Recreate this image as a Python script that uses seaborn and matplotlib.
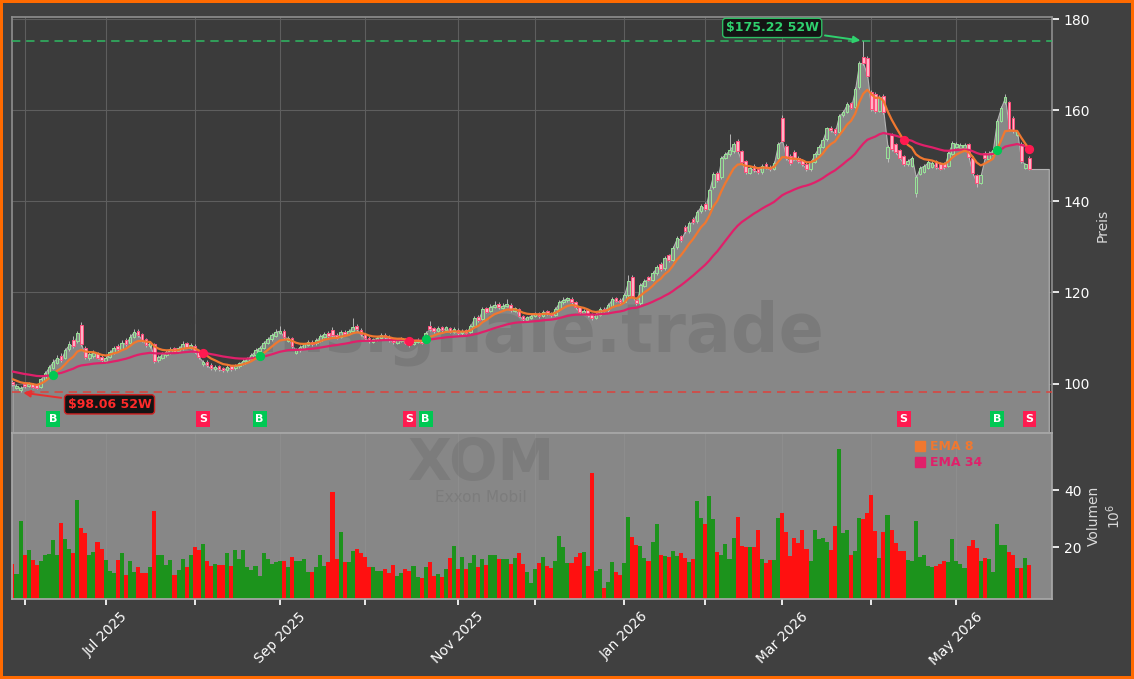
import numpy as np
import pandas as pd
import matplotlib
matplotlib.use("Agg")
import matplotlib.pyplot as plt
import matplotlib.transforms as mtransforms
from matplotlib.lines import Line2D
import seaborn as sns

TICKER = "XOM"
COMPANY = "Exxon Mobil"
WATERMARK = "formsignale.trade"

start_date = "2025-05-28"
end_date = "2026-05-28"
market_holidays = ["2025-06-19", "2025-07-04", "2025-09-01", "2025-11-27",
                   "2025-12-25", "2026-01-01", "2026-01-19", "2026-02-16",
                   "2026-04-03", "2026-05-25"]

opens = [
    100.4, 99.1, 98.6, 99.9, 99.4, 99.9, 99.6, 99.3, 100.8, 102.0, 103.4, 104.6,
    106.1, 105.5, 107.6, 109.6, 109.4, 112.9, 107.8, 105.6, 106.0, 106.6, 105.9, 105.0,
    105.8, 106.8, 108.3, 107.6, 109.5, 108.9, 110.2, 111.5, 110.9, 109.8, 108.2, 108.6,
    105.1, 105.6, 106.2, 106.8, 107.7, 107.1, 107.7, 108.8, 107.9, 108.3, 106.9, 104.2,
    104.8, 104.1, 103.1, 103.8, 103.4, 102.9, 103.8, 103.3, 103.8, 104.3, 104.9, 105.4,
    106.2, 107.2, 107.8, 108.9, 109.7, 110.5, 111.2, 111.5, 109.4, 109.9, 106.8, 107.3,
    107.9, 108.5, 109.2, 108.8, 109.4, 110.3, 111.2, 111.8, 110.7, 110.2, 111.4, 110.9,
    111.5, 112.6, 111.8, 110.9, 110.1, 109.2, 109.6, 110.0, 110.7, 110.3, 109.7, 109.0,
    109.4, 109.8, 109.2, 108.7, 109.1, 109.6, 109.4, 112.6, 112.1, 111.6, 112.3, 111.7,
    112.2, 111.3, 111.8, 111.0, 111.7, 111.3, 112.7, 114.6, 114.2, 116.5, 115.9, 116.8,
    117.4, 116.6, 117.0, 117.3, 116.0, 116.3, 114.8, 113.9, 114.4, 114.8, 115.4, 114.9,
    115.9, 115.5, 115.1, 116.3, 117.8, 118.3, 118.6, 117.8, 116.7, 115.5, 116.1, 115.2,
    114.4, 115.1, 116.4, 116.1, 117.1, 118.7, 118.4, 118.0, 119.4, 123.3, 118.3, 117.6,
    121.5, 123.4, 122.7, 124.2, 126.3, 125.3, 128.2, 127.2, 129.9, 132.3, 134.4, 133.4,
    136.1, 135.6, 137.8, 139.5, 138.4, 143.1, 146.2, 145.3, 149.6, 150.3, 151.0, 153.3,
    151.0, 148.8, 146.2, 147.8, 147.0, 146.4, 148.3, 147.6, 147.1, 149.6, 158.4, 152.2,
    150.0, 150.9, 149.6, 149.0, 148.3, 147.0, 148.7, 150.4, 152.0, 153.6, 156.2, 155.9,
    155.2, 158.9, 159.7, 161.6, 160.8, 165.0, 171.6, 171.5, 164.0, 163.5, 159.9, 163.2,
    149.5, 154.5, 152.6, 151.2, 149.9, 148.1, 147.8, 141.8, 146.0, 146.5, 147.3, 147.6,
    148.8, 148.3, 148.4, 147.8, 150.4, 151.9, 151.7, 151.8, 152.5, 149.6, 145.8, 144.0,
    150.7, 149.4, 150.2, 151.9, 157.7, 161.7, 161.7, 158.4, 154.6, 152.6, 147.3, 149.6,
]
highs = [
    100.8, 99.9, 99.4, 100.3, 100.4, 100.2, 99.9, 101.3, 102.7, 104.1, 105.3, 106.3,
    106.8, 107.9, 109.3, 110.4, 111.6, 113.4, 108.3, 106.9, 107.3, 107.0, 106.2, 106.0,
    107.3, 108.2, 108.7, 109.5, 109.9, 110.8, 112.0, 111.9, 111.2, 110.1, 109.4, 108.9,
    106.2, 106.9, 107.3, 108.0, 108.1, 108.3, 109.3, 109.2, 108.9, 108.6, 107.2, 105.2,
    105.1, 104.4, 104.1, 104.0, 103.7, 104.0, 104.1, 104.3, 104.8, 105.4, 105.9, 106.8,
    107.7, 108.3, 109.4, 110.3, 111.1, 111.9, 112.6, 111.9, 110.4, 110.2, 107.8, 108.4,
    109.0, 109.5, 109.6, 109.9, 110.8, 111.4, 111.6, 112.3, 111.0, 111.7, 111.7, 111.9,
    114.3, 113.1, 112.1, 111.2, 110.4, 110.1, 110.5, 111.0, 111.0, 110.6, 110.0, 109.9,
    110.3, 110.1, 109.5, 109.6, 109.9, 109.9, 111.6, 113.8, 112.4, 112.6, 112.6, 112.7,
    112.5, 112.3, 112.1, 112.0, 112.0, 113.0, 114.8, 115.0, 116.8, 116.9, 117.4, 118.2,
    117.8, 117.6, 118.5, 117.6, 116.9, 116.6, 115.1, 114.9, 115.3, 115.7, 115.7, 116.2,
    116.2, 115.8, 116.8, 118.4, 118.9, 119.1, 118.9, 118.1, 117.0, 116.4, 116.4, 115.5,
    115.6, 116.7, 116.7, 117.6, 119.0, 119.0, 118.7, 119.9, 123.9, 123.9, 118.6, 122.0,
    123.0, 123.7, 124.6, 126.0, 126.6, 128.0, 128.5, 130.2, 132.3, 132.6, 134.8, 135.6,
    136.5, 138.1, 139.5, 139.9, 142.8, 146.4, 146.6, 150.0, 150.8, 154.8, 153.0, 153.7,
    151.3, 149.1, 147.8, 148.1, 147.3, 148.2, 148.6, 147.9, 148.8, 153.0, 158.9, 152.5,
    150.3, 151.3, 149.9, 149.3, 148.6, 149.0, 150.7, 152.3, 153.9, 156.4, 156.5, 156.2,
    159.2, 160.0, 161.8, 161.9, 165.0, 170.9, 175.22, 171.9, 164.4, 163.9, 163.4, 163.6,
    152.4, 154.9, 152.9, 151.5, 150.2, 149.3, 150.0, 145.7, 147.8, 148.2, 149.0, 148.8,
    149.1, 148.6, 148.7, 151.0, 153.2, 153.0, 152.7, 152.8, 152.8, 149.9, 146.1, 146.1,
    151.0, 151.0, 151.6, 158.1, 161.0, 163.6, 162.0, 158.8, 155.6, 153.0, 148.5, 150.0,
]
lows = [
    99.5, 98.7, 98.06, 99.1, 99.2, 99.0, 98.7, 99.1, 100.5, 101.8, 103.1, 104.3,
    104.8, 105.3, 107.2, 107.9, 109.0, 108.2, 105.4, 105.2, 105.7, 105.3, 104.6, 104.4,
    105.5, 106.5, 107.1, 107.3, 108.3, 108.6, 109.9, 110.3, 109.2, 108.1, 107.9, 104.5,
    104.7, 105.3, 105.9, 106.5, 106.6, 106.8, 107.4, 107.7, 107.6, 106.6, 105.4, 103.9,
    103.6, 102.9, 102.8, 102.7, 102.5, 102.6, 102.8, 103.0, 103.5, 104.0, 104.6, 105.1,
    105.9, 106.9, 107.5, 108.6, 109.4, 110.2, 110.9, 109.8, 109.1, 107.9, 106.4, 107.0,
    107.6, 108.2, 108.3, 108.5, 109.1, 110.0, 110.1, 110.2, 109.7, 109.9, 110.4, 110.6,
    111.2, 111.5, 110.4, 109.6, 108.9, 108.9, 109.3, 109.7, 109.8, 109.2, 108.7, 108.7,
    109.1, 108.6, 108.1, 108.4, 108.8, 108.6, 109.1, 111.6, 111.1, 111.3, 111.3, 111.4,
    111.0, 111.0, 110.6, 110.7, 110.8, 111.0, 112.4, 113.6, 113.9, 115.4, 115.6, 116.5,
    116.3, 116.3, 116.7, 115.8, 115.7, 114.5, 113.7, 113.6, 114.1, 114.5, 114.4, 114.6,
    115.0, 114.6, 114.8, 116.0, 117.5, 118.0, 117.5, 116.4, 115.2, 115.2, 114.7, 113.9,
    114.1, 114.8, 115.6, 115.8, 116.8, 117.8, 117.5, 117.7, 119.1, 118.9, 117.2, 117.3,
    121.2, 122.4, 122.4, 123.9, 124.8, 125.0, 126.7, 126.9, 129.6, 131.1, 133.1, 133.1,
    135.1, 135.3, 137.5, 137.9, 138.1, 142.8, 144.2, 145.0, 149.3, 150.0, 150.7, 150.7,
    148.2, 146.0, 145.9, 146.4, 146.1, 146.1, 147.0, 146.6, 146.8, 149.3, 153.0, 149.1,
    148.0, 149.0, 148.4, 147.8, 146.6, 146.7, 148.4, 150.1, 151.7, 153.3, 155.2, 154.6,
    154.9, 158.6, 159.4, 160.2, 160.5, 164.7, 169.9, 167.2, 159.8, 159.4, 159.6, 159.2,
    148.6, 151.1, 150.4, 149.2, 147.8, 147.8, 147.5, 141.0, 145.7, 146.2, 147.0, 147.3,
    147.1, 146.8, 147.2, 147.5, 150.1, 151.6, 151.4, 151.5, 149.4, 145.8, 143.1, 143.7,
    149.2, 149.1, 149.9, 151.6, 157.4, 161.4, 155.5, 155.1, 154.3, 148.5, 147.0, 146.8,
]
closes = [
    99.8, 99.4, 99.0, 99.5, 99.9, 99.3, 99.1, 100.9, 102.2, 103.6, 104.8, 105.6,
    105.2, 107.4, 108.6, 108.2, 111.0, 108.6, 105.9, 106.4, 106.8, 105.7, 105.2, 105.6,
    106.9, 107.8, 107.5, 109.0, 108.7, 110.3, 111.4, 110.7, 109.6, 108.5, 108.9, 105.0,
    105.8, 106.4, 106.9, 107.5, 107.0, 107.8, 108.6, 108.1, 108.4, 107.0, 105.8, 104.8,
    104.0, 103.3, 103.7, 103.1, 102.9, 103.6, 103.2, 103.9, 104.4, 105.0, 105.5, 106.3,
    107.3, 107.9, 109.0, 109.8, 110.6, 111.4, 111.6, 110.2, 110.0, 108.3, 107.4, 108.0,
    108.6, 109.1, 108.7, 109.5, 110.4, 110.9, 110.5, 110.6, 110.1, 111.3, 110.8, 111.5,
    112.4, 111.9, 110.8, 110.0, 109.3, 109.7, 110.1, 110.6, 110.2, 109.6, 109.1, 109.5,
    109.9, 109.0, 108.6, 109.2, 109.5, 109.0, 111.2, 112.0, 111.5, 112.2, 111.7, 112.3,
    111.4, 111.9, 111.0, 111.6, 111.2, 112.6, 114.4, 114.0, 116.3, 115.8, 116.9, 117.3,
    116.7, 117.1, 117.4, 116.2, 116.5, 114.9, 114.1, 114.5, 114.9, 115.3, 114.8, 115.8,
    115.4, 115.0, 116.4, 117.9, 118.4, 118.7, 117.9, 116.8, 115.6, 116.0, 115.1, 114.3,
    115.2, 116.3, 116.0, 117.2, 118.6, 118.2, 117.9, 119.5, 122.5, 119.3, 117.6, 121.6,
    122.6, 122.8, 124.2, 125.6, 125.2, 127.6, 127.1, 129.8, 131.9, 131.5, 133.5, 135.2,
    135.5, 137.7, 139.0, 138.3, 142.4, 146.0, 144.6, 149.6, 150.4, 151.2, 152.6, 151.1,
    148.6, 146.4, 147.4, 146.8, 146.5, 147.8, 147.4, 147.0, 148.4, 152.6, 153.3, 149.6,
    148.4, 149.4, 148.8, 148.2, 147.0, 148.6, 150.3, 151.9, 153.5, 156.0, 155.6, 155.0,
    158.8, 159.6, 161.4, 160.6, 164.6, 170.4, 170.3, 167.6, 160.2, 159.8, 163.0, 159.6,
    152.0, 151.5, 150.8, 149.6, 148.2, 148.9, 149.6, 145.3, 147.4, 147.8, 148.6, 148.4,
    147.5, 147.2, 147.6, 150.6, 152.8, 152.6, 152.3, 152.4, 149.8, 146.2, 144.1, 145.7,
    149.6, 150.6, 151.2, 157.7, 160.6, 162.8, 155.9, 155.5, 155.3, 148.9, 148.1, 147.1,
]
# Volumen in Millionen Stueck
volumes = [
    14.1, 10.6, 29.1, 17.3, 19.1, 15.6, 13.8, 15.3, 17.1, 17.7, 22.6, 17.3,
    28.6, 23.0, 19.4, 18.0, 36.7, 26.8, 25.1, 17.1, 18.5, 22.0, 19.4, 15.6,
    11.5, 11.0, 15.6, 18.0, 10.4, 15.0, 11.4, 13.2, 10.8, 11.1, 13.2, 32.6,
    17.1, 17.1, 13.9, 15.6, 10.4, 12.1, 15.9, 12.9, 17.3, 20.0, 19.2, 21.2,
    15.3, 13.5, 14.1, 13.8, 13.9, 18.0, 13.5, 19.1, 15.9, 19.2, 12.9, 12.0,
    13.5, 9.8, 18.0, 15.9, 14.1, 14.7, 15.0, 15.0, 12.9, 16.7, 15.3, 15.0,
    15.7, 11.2, 11.2, 12.9, 17.1, 13.3, 14.7, 39.4, 15.7, 25.5, 14.7, 14.9,
    18.6, 19.3, 18.1, 16.7, 12.9, 12.9, 11.8, 11.8, 12.2, 10.8, 13.9, 9.9,
    11.1, 12.2, 11.8, 13.5, 9.4, 9.1, 12.9, 14.9, 9.8, 10.6, 9.4, 12.5,
    16.1, 20.4, 12.2, 16.7, 12.4, 14.4, 17.1, 12.9, 15.9, 13.9, 17.4, 17.1,
    15.9, 15.7, 15.9, 14.1, 16.3, 18.1, 14.1, 11.4, 7.3, 12.4, 14.5, 16.7,
    13.5, 12.7, 15.0, 24.1, 20.0, 14.5, 14.5, 16.5, 17.9, 18.5, 13.5, 46.1,
    11.8, 12.4, 5.7, 7.9, 14.7, 11.2, 10.4, 14.4, 30.6, 23.5, 20.8, 20.4,
    16.1, 15.3, 21.8, 28.0, 17.4, 16.8, 16.5, 18.8, 16.8, 17.9, 16.1, 14.7,
    15.7, 36.1, 30.2, 28.0, 37.9, 29.8, 18.5, 17.3, 21.2, 15.8, 23.2, 30.8,
    20.4, 20.0, 20.0, 20.2, 26.2, 16.0, 14.4, 15.4, 15.6, 30.4, 31.9, 25.5,
    16.9, 23.1, 21.4, 25.9, 19.5, 15.2, 26.1, 22.9, 23.1, 21.8, 19.1, 27.4,
    54.7, 25.1, 26.1, 17.2, 18.8, 30.4, 30.1, 32.2, 38.3, 25.6, 16.3, 25.5,
    31.4, 26.1, 21.4, 18.8, 18.6, 15.6, 15.3, 29.1, 16.5, 17.4, 13.5, 12.9,
    13.5, 14.1, 15.3, 14.7, 23.0, 15.3, 14.1, 12.7, 20.6, 22.6, 19.7, 15.0,
    16.3, 15.7, 11.2, 28.0, 20.8, 20.8, 18.5, 17.1, 12.7, 12.7, 16.3, 13.9,
]

# EMA-Stand am Tag vor dem ersten Balken
ema8_prev = 101.3
ema34_prev = 102.8

# Farben
BG = "#404040"
PANEL = "#3b3b3b"
AREA = "#878787"
ORANGE = "#f07830"
PINK = "#e0206a"
BUY = "#00c853"
SELL = "#ff1a50"
VOL_UP = "#1c931c"
VOL_DOWN = "#ff1010"

# ------------------------------------------------------
# Daten vorbereiten
# ------------------------------------------------------
dates = pd.bdate_range(start_date, end_date)
dates = dates[~dates.isin(pd.to_datetime(market_holidays))]

df = pd.DataFrame({
    "open": opens, "high": highs, "low": lows,
    "close": closes, "volume": volumes,
}, index=dates)
df["x"] = np.arange(len(df))
df["up"] = df["close"] >= df["open"]

df["ema8"] = pd.Series([ema8_prev] + closes).ewm(span=8, adjust=False).mean().iloc[1:].values
df["ema34"] = pd.Series([ema34_prev] + closes).ewm(span=34, adjust=False).mean().iloc[1:].values

side = np.sign(df["ema8"] - df["ema34"]).values
cross = np.where(np.diff(side) != 0)[0] + 1
buys = [i for i in cross if side[i] > 0]
sells = [i for i in cross if side[i] < 0]

hi_i = int(df["high"].values.argmax())
lo_i = int(df["low"].values.argmin())
hi_val = df["high"].iloc[hi_i]
lo_val = df["low"].iloc[lo_i]

# Monatsanfaenge (angebrochener Startmonat ohne Tick)
month_pos = df.groupby(df.index.to_period("M"))["x"].first().iloc[1:]
month_lbl = [p.strftime("%b %Y") if p.month % 2 == 1 else "" for p in month_pos.index]

# ------------------------------------------------------
# Figur
# ------------------------------------------------------
sns.set_theme(style="dark", rc={
    "figure.facecolor": BG,
    "axes.facecolor": PANEL,
    "axes.edgecolor": "#8c8c8c",
    "axes.labelcolor": "#d9d9d9",
    "text.color": "#e6e6e6",
    "xtick.color": "#ffffff",
    "ytick.color": "#ffffff",
    "grid.color": "#5e5e5e",
})
plt.rcParams["font.family"] = ["DejaVu Sans"]

fig = plt.figure(figsize=(11.34, 6.79), dpi=100, facecolor=BG,
                 edgecolor="#ff6a00", linewidth=4)
ax = fig.add_axes([0.0106, 0.3623, 0.9171, 0.6127])
axv = fig.add_axes([0.0106, 0.1178, 0.9171, 0.2445], sharex=ax)

x_right = 256.6
ax.set_xlim(-0.1, x_right)
ax.set_ylim(lo_val * 0.909, hi_val * 1.03)
y0 = ax.get_ylim()[0]

# Preis-Flaeche
fill_x = np.append(df["x"].values, x_right - 0.8)
fill_y = np.append(df["close"].values, df["close"].iloc[-1])
ax.fill_between(fill_x, fill_y, y0, color=AREA, edgecolor="#b4b4b4",
                linewidth=0.8, zorder=2)

ax.text(0.456, 0.24, WATERMARK, transform=ax.transAxes, ha="center", va="center",
        fontsize=48, fontweight="bold", color="#404040", alpha=0.18, zorder=3)

# Kerzen
up = df[df["up"]]
dn = df[~df["up"]]
ax.vlines(df["x"], df["low"], df["high"], color="#c8c8c8", linewidth=0.6, zorder=4)
ax.bar(up["x"], (up["close"] - up["open"]).clip(lower=0.15), bottom=up["open"],
       width=0.65, facecolor="#8a8a8a", edgecolor="#98e698", linewidth=0.7, zorder=4)
ax.bar(dn["x"], (dn["open"] - dn["close"]).clip(lower=0.15), bottom=dn["close"],
       width=0.65, facecolor="#ffb3c6", edgecolor="#ff4f7b", linewidth=0.7, zorder=4)

# EMAs
sns.lineplot(x=df["x"], y=df["ema34"], ax=ax, color=PINK, linewidth=1.6, zorder=5)
sns.lineplot(x=df["x"], y=df["ema8"], ax=ax, color=ORANGE, linewidth=1.6, zorder=5)

ax.scatter(buys, df["ema8"].iloc[buys], s=32, color=BUY, zorder=6)
ax.scatter(sells, df["ema8"].iloc[sells], s=32, color=SELL, zorder=6)

trans = mtransforms.blended_transform_factory(ax.transData, ax.transAxes)
for i in buys:
    ax.text(i, 0.033, "B", transform=trans, ha="center", va="center", color="white",
            fontsize=8, fontweight="bold", zorder=7,
            bbox=dict(boxstyle="square,pad=0.25", fc=BUY, ec="none"))
for i in sells:
    ax.text(i, 0.033, "S", transform=trans, ha="center", va="center", color="white",
            fontsize=8, fontweight="bold", zorder=7,
            bbox=dict(boxstyle="square,pad=0.25", fc=SELL, ec="none"))

# 52-Wochen Hoch / Tief
ax.axhline(hi_val, color="#2ebd63", linestyle=(0, (5, 3.5)), linewidth=1.2, alpha=0.9, zorder=3)
ax.axhline(lo_val, color="#e0403a", linestyle=(0, (5, 3.5)), linewidth=1.2, alpha=0.9, zorder=3)

ax.annotate(f"${hi_val:.2f} 52W", xy=(hi_i, hi_val), xytext=(-91, 13),
            textcoords="offset pixels", ha="center", va="center",
            color="#2fd16e", fontsize=9, fontweight="bold", zorder=8,
            bbox=dict(boxstyle="round,pad=0.25", fc="#141414", ec="#2ebd63", lw=1),
            arrowprops=dict(arrowstyle="-|>", color="#2fd16e", lw=1.4, mutation_scale=10))
ax.annotate(f"${lo_val:.2f} 52W", xy=(lo_i, lo_val), xytext=(89, -12),
            textcoords="offset pixels", ha="center", va="center",
            color="#ff2a2a", fontsize=9, fontweight="bold", zorder=8,
            bbox=dict(boxstyle="round,pad=0.25", fc="#141414", ec="#d02020", lw=1),
            arrowprops=dict(arrowstyle="-|>", color="#e83030", lw=1.4, mutation_scale=10))

ax.yaxis.tick_right()
ax.yaxis.set_label_position("right")
ax.set_yticks([100, 120, 140, 160, 180])
ax.set_ylabel("Preis", fontsize=10)
ax.tick_params(axis="y", right=True, length=5, labelsize=10, colors="#ffffff")
ax.tick_params(axis="x", bottom=False, labelbottom=False)
ax.set_xlabel("")
ax.set_xticks(month_pos.values)
ax.grid(True, color="#5e5e5e", linewidth=0.8)
ax.set_axisbelow(True)

# ------------------------------------------------------
# Volumen
# ------------------------------------------------------
axv.set_facecolor(AREA)
vol_colors = np.where(df["up"], VOL_UP, VOL_DOWN)
axv.bar(df["x"], df["volume"], width=1.0, color=vol_colors, linewidth=0, zorder=2)
axv.set_ylim(1.8, df["volume"].max() * 1.1)

axv.text(0.451, 0.81, TICKER, transform=axv.transAxes, ha="center", va="center",
         fontsize=41, fontweight="bold", color="#404040", alpha=0.15, zorder=1)
axv.text(0.451, 0.61, COMPANY, transform=axv.transAxes, ha="center", va="center",
         fontsize=11, color="#404040", alpha=0.15, zorder=1)

axv.yaxis.tick_right()
axv.yaxis.set_label_position("right")
axv.set_yticks([20, 40])
axv.set_ylabel("Volumen\n$10^6$", fontsize=10)
axv.tick_params(axis="y", right=True, length=5, labelsize=10, colors="#ffffff")
axv.set_xticks(month_pos.values)
axv.set_xticklabels(month_lbl, rotation=45, ha="center")
axv.tick_params(axis="x", bottom=True, length=4, labelsize=10, colors="#ffffff")
axv.grid(True, axis="x", color="#9a9a9a", linewidth=0.6, alpha=0.4)
axv.set_axisbelow(True)
for s in axv.spines.values():
    s.set_color("#a8a8a8")

handles = [Line2D([], [], marker="s", linestyle="none", color=ORANGE, markersize=7),
           Line2D([], [], marker="s", linestyle="none", color=PINK, markersize=7)]
axv.legend(handles, ["EMA 8", "EMA 34"], loc="upper left", bbox_to_anchor=(0.86, 1.01),
           frameon=False, labelcolor=[ORANGE, PINK], prop={"weight": "bold", "size": 9},
           handlelength=0.8, handletextpad=0.4, labelspacing=0.25, borderpad=0.2)

fig.savefig("out.png", dpi=100, facecolor=fig.get_facecolor(), edgecolor=fig.get_edgecolor())
